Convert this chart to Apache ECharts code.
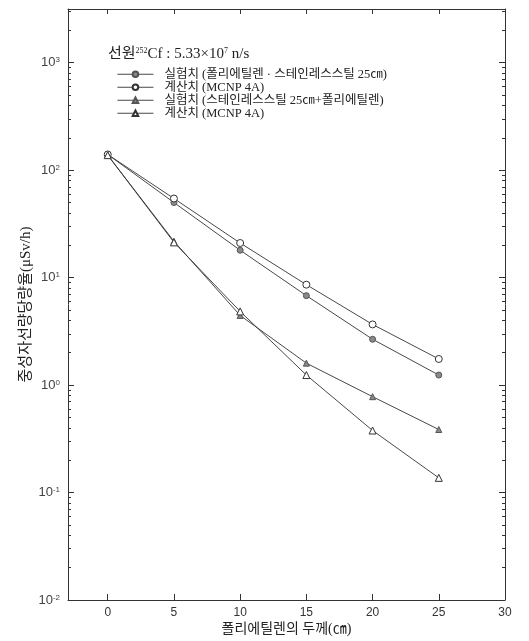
<!DOCTYPE html>
<html>
<head>
<meta charset="utf-8">
<script src="https://cdn.jsdelivr.net/npm/echarts@6/dist/echarts.min.js"></script>
<style>html,body{margin:0;padding:0;background:#fff}#c{width:529px;height:641px}</style>
</head>
<body>
<div id="c"></div>
<script>
// thickness of polyethylene (cm)
var thickness = [0, 5, 10, 15, 20, 25];
// measured: polyethylene + stainless steel 25cm
var measPolySS = [140, 50, 18.0, 6.8, 2.67, 1.24];
// calculated (MCNP 4A)
var calcPolySS = [140, 54.5, 21, 8.6, 3.67, 1.75];
// measured: stainless steel 25cm + polyethylene
var measSSPoly = [138, 21.8, 4.45, 1.6, 0.78, 0.386];
// calculated (MCNP 4A)
var calcSSPoly = [138, 21.3, 4.85, 1.24, 0.378, 0.137];

var seriesNames = [
  '실험치 (폴리에틸렌 · 스테인레스스틸 25㎝)',
  '계산치 (MCNP 4A)',
  '실험치 (스테인레스스틸 25㎝+폴리에틸렌)',
  '계산치 (MCNP 4A) '
];
var xTicks = [0, 5, 10, 15, 20, 25, 30];
var yMajorExp = [-2, -1, 0, 1, 2, 3];
var yMinorMult = [2, 3, 4, 5, 6, 7, 8, 9];

var yMinorLog = [];
yMajorExp.forEach(function (e) {
  yMinorMult.forEach(function (m) {
    var v = e + Math.log10(m);
    if (v < 3.5) yMinorLog.push(v);
  });
});

function pairs(ys) { return thickness.map(function (x, i) { return [x, ys[i]]; }); }

var serifKR = "'Liberation Serif','Noto Sans CJK KR'";
var sans = "'Liberation Sans','DejaVu Sans'";
var ink = '#333';

var chart = echarts.init(document.getElementById('c'));
var lineBase = { type: 'line', xAxisIndex: 0, yAxisIndex: 0, lineStyle: { color: ink, width: 0.9 }, symbolSize: 6, z: 3 };

chart.setOption({
  backgroundColor: '#fff',
  animation: false,
  title: {
    left: 103, top: 42,
    text: '선원{s|252}Cf : 5.33×10{s|7} n/s',
    textStyle: {
      fontFamily: serifKR, fontSize: 15, fontWeight: 'normal', color: '#222',
      rich: { s: { fontSize: 8, verticalAlign: 'top', lineHeight: 10, fontFamily: serifKR, color: '#222' } }
    }
  },
  legend: {
    orient: 'vertical', left: 112, top: 63,
    itemWidth: 36, itemHeight: 7, itemGap: 0.5,
    data: seriesNames,
    lineStyle: { width: 0.9 },
    textStyle: { fontFamily: serifKR, fontSize: 12.5, color: '#222', lineHeight: 12, padding: [0, 0, 0, 6] }
  },
  grid: { left: 68, right: 24, top: 9, bottom: 37 },
  xAxis: [
    {
      type: 'value', position: 'bottom', min: -3, max: 30,
      name: '폴리에틸렌의 두께(㎝)', nameLocation: 'middle', nameGap: 22, nameMoveOverlap: false,
      nameTextStyle: { fontFamily: serifKR, fontSize: 14, color: '#222' },
      axisLine: { onZero: false, lineStyle: { color: ink, width: 1 } },
      axisTick: { inside: true, length: 6, customValues: xTicks, lineStyle: { color: ink } },
      axisLabel: { customValues: xTicks, fontFamily: sans, fontSize: 12, color: '#333', margin: 7 },
      splitLine: { show: false }
    },
    {
      type: 'value', position: 'top', min: -3, max: 30,
      axisLine: { onZero: false, lineStyle: { color: ink, width: 1 } },
      axisTick: { inside: true, length: 5, customValues: xTicks, lineStyle: { color: ink } },
      axisLabel: { show: false },
      splitLine: { show: false }
    }
  ],
  yAxis: [
    {
      type: 'log', logBase: 10, position: 'left', min: 0.01, max: Math.pow(10, 3.5), interval: 1,
      name: '중성자선량당량율(μSv/h)', nameLocation: 'middle', nameGap: 34, nameRotate: 90, nameMoveOverlap: false,
      nameTextStyle: { fontFamily: serifKR, fontSize: 15, color: '#222' },
      axisLine: { show: true, onZero: false, lineStyle: { color: ink, width: 1 } },
      axisTick: { inside: true, length: 6, lineStyle: { color: ink } },
      axisLabel: {
        showMaxLabel: false, margin: 8, fontFamily: sans, fontSize: 13, color: '#444',
        formatter: function (v) {
          var e = Math.round(Math.log10(v));
          if (Math.abs(Math.log10(v) - e) > 1e-6) return '';
          return '10{s|' + e + '}';
        },
        rich: { s: { fontSize: 8, verticalAlign: 'top', lineHeight: 10, fontFamily: sans, color: '#444' } }
      },
      splitLine: { show: false }
    },
    {
      type: 'log', logBase: 10, position: 'right', min: 0.01, max: Math.pow(10, 3.5), interval: 1,
      axisLine: { show: true, onZero: false, lineStyle: { color: ink, width: 1 } },
      axisTick: { inside: true, length: 6, lineStyle: { color: ink } },
      axisLabel: { show: false },
      splitLine: { show: false }
    },
    {
      type: 'value', position: 'left', min: -2, max: 3.5,
      axisLine: { show: false, onZero: false },
      axisTick: { show: true, inside: true, length: 3, customValues: yMinorLog, lineStyle: { color: ink } },
      axisLabel: { show: false },
      splitLine: { show: false }
    },
    {
      type: 'value', position: 'right', min: -2, max: 3.5,
      axisLine: { show: false, onZero: false },
      axisTick: { show: true, inside: true, length: 3, customValues: yMinorLog, lineStyle: { color: ink } },
      axisLabel: { show: false },
      splitLine: { show: false }
    }
  ],
  series: [
    Object.assign({}, lineBase, { name: seriesNames[0], data: pairs(measPolySS), symbol: 'circle',
      itemStyle: { color: '#8a8a8a', borderColor: '#555', borderWidth: 1 } }),
    Object.assign({}, lineBase, { name: seriesNames[1], data: pairs(calcPolySS), symbol: 'circle', symbolSize: 7,
      itemStyle: { color: '#fff', borderColor: ink, borderWidth: 1 } }),
    Object.assign({}, lineBase, { name: seriesNames[2], data: pairs(measSSPoly), symbol: 'triangle',
      itemStyle: { color: '#8a8a8a', borderColor: '#555', borderWidth: 1 } }),
    Object.assign({}, lineBase, { name: seriesNames[3], data: pairs(calcSSPoly), symbol: 'triangle', symbolSize: 7,
      itemStyle: { color: '#fff', borderColor: ink, borderWidth: 1 } })
  ]
});
</script>
</body>
</html>
